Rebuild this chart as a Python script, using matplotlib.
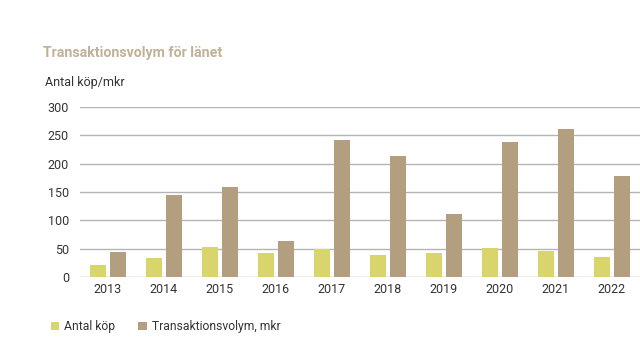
import numpy as np
import matplotlib.pyplot as plt

# ---------- Data ----------
years = ['2013', '2014', '2015', '2016', '2017', '2018', '2019', '2020', '2021', '2022']
antal_kop = [22, 34, 53, 43, 50, 38, 42, 52, 46, 35]
volym_mkr = [44, 145, 158, 63, 242, 213, 111, 238, 261, 178]
y_ticks = [0, 50, 100, 150, 200, 250, 300]

yellow = '#d8d56c'
brown = '#b39f7f'
grid_col = '#b4b4b4'
text_col = '#333333'

plt.rcParams['font.family'] = ['Roboto', 'DejaVu Sans']

# ---------- Plotting ----------
fig = plt.figure(figsize=(6.4, 3.5), dpi=100)
ax = fig.add_axes([0.125, 0.2086, 0.875, 0.4857])

x = np.arange(len(years))
w = 0.29
ax.bar(x - 0.18, antal_kop, width=w, color=yellow, label='Antal köp', zorder=3)
ax.bar(x + 0.18, volym_mkr, width=w, color=brown, label='Transaktionsvolym, mkr', zorder=3)

ax.set_xlim(-0.5, len(years) - 0.5)
ax.set_ylim(0, 300)
ax.set_yticks(y_ticks)
ax.set_xticks(x)
ax.set_xticklabels(years)
ax.tick_params(length=0, labelsize=9, colors=text_col, pad=8)
ax.tick_params(axis='x', pad=4)
ax.grid(axis='y', color=grid_col, linewidth=1, zorder=0)
for s in ax.spines.values():
    s.set_visible(False)

fig.text(0.067, 0.848, 'Transaktionsvolym för länet', color='#c0b197',
         fontsize=10.2, fontweight='bold', va='center')
fig.text(0.070, 0.763, 'Antal köp/mkr', color=text_col, fontsize=9, va='center')

leg = fig.legend(loc='center left', bbox_to_anchor=(0.072, 0.066), ncol=2,
                 frameon=False, fontsize=8.7, handlelength=0.7, handleheight=0.7,
                 handletextpad=0.4, columnspacing=1.9, borderaxespad=0)
for t in leg.get_texts():
    t.set_color(text_col)

fig.savefig('out.png', dpi=100)
